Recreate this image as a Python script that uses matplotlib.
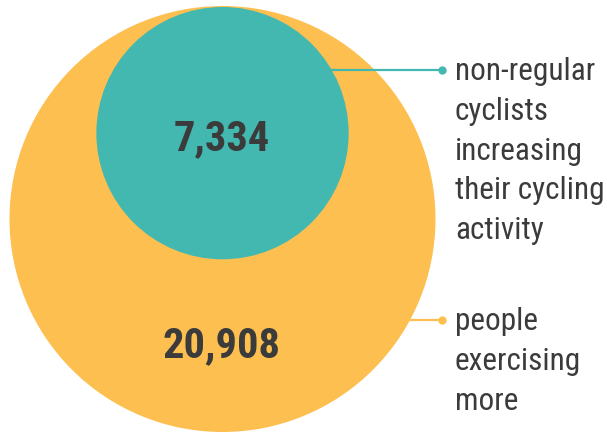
import matplotlib
matplotlib.use('Agg')
import matplotlib.pyplot as plt
from matplotlib.patches import Circle
import numpy as np

# data
values = [20908, 7334]
value_labels = ['20,908', '7,334']
series_names = [
    ['people', 'exercising', 'more'],
    ['non-regular', 'cyclists', 'increasing', 'their cycling', 'activity'],
]
colors = ['#FDBF4F', '#42B8B1']
text_color = '#3B3B3B'

W, H = 607, 435
fig = plt.figure(figsize=(W / 100, H / 100), dpi=100)
ax = fig.add_axes([0, 0, 1, 1])
ax.set_xlim(0, W)
ax.set_ylim(H, 0)
ax.set_aspect('equal')
ax.axis('off')

# big circle sets the scale, small circle is area-proportional and touches the top
cx, cy_big, r_big = 222.5, 220.0, 213.0
r_small = r_big * np.sqrt(values[1] / values[0])
cy_small = cy_big - r_big + r_small + 1
centers = [(cx, cy_big), (cx, cy_small)]
radii = [r_big, r_small]

for (x, y), r, c in zip(centers, radii, colors):
    ax.add_patch(Circle((x, y), r, facecolor=c, edgecolor='none'))

# numbers inside circles
num_y = [357.5, 150]
for lab, y in zip(value_labels, num_y):
    ax.text(cx - 1, y, lab, ha='center', va='baseline', fontsize=30.5,
            fontweight='bold', family='Roboto Condensed', color=text_color)

# leader lines and labels
line_y = [320.7, 70.7]
dot_x = 441.5
text_x = 455
for i in range(2):
    y = line_y[i]
    cxx, cyy = centers[i]
    x0 = cxx + np.sqrt(radii[i] ** 2 - (y - cyy) ** 2) - 2
    ax.plot([x0, dot_x], [y, y], color=colors[i], lw=1.6, solid_capstyle='butt')
    ax.plot(dot_x, y, 'o', color=colors[i], markersize=6, markeredgewidth=0)
    base = y + 9.5
    for j, line in enumerate(series_names[i]):
        ax.text(text_x, base + j * 39.7, line, ha='left', va='baseline',
                fontsize=22.5, family='Roboto Condensed', color=text_color)

fig.savefig('out.png', dpi=100)
